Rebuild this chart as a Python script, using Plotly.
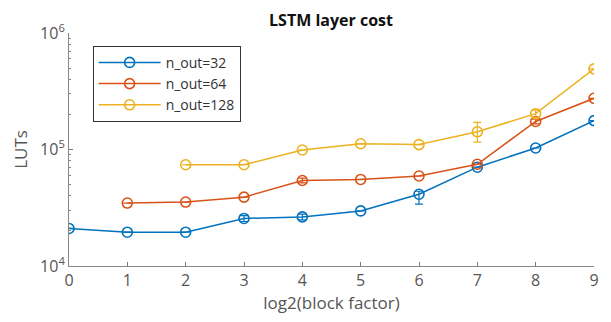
import plotly.graph_objects as go

x_vals = [0, 1, 2, 3, 4, 5, 6, 7, 8, 9]

x_32 = [0, 1, 2, 3, 4, 5, 6, 7, 8, 9]
luts_32 = [21000, 19500, 19500, 25600, 26400, 29700, 41300, 70500, 103000, 177000]
err_up_32 = [0, 0, 0, 1500, 1500, 0, 2500, 0, 0, 0]
err_dn_32 = [0, 0, 0, 1500, 1500, 0, 7300, 0, 0, 0]

x_64 = [1, 2, 3, 4, 5, 6, 7, 8, 9]
luts_64 = [34700, 35400, 39000, 54200, 55300, 59200, 74700, 174000, 275000]
err_up_64 = [0, 0, 0, 2500, 0, 0, 0, 8000, 0]
err_dn_64 = [0, 0, 0, 2500, 0, 0, 0, 8000, 0]

x_128 = [2, 3, 4, 5, 6, 7, 8, 9]
luts_128 = [74000, 74000, 99000, 112000, 110200, 141900, 203000, 492000]
err_up_128 = [0, 0, 0, 0, 0, 28700, 15000, 0]
err_dn_128 = [0, 0, 0, 0, 0, 26200, 15000, 0]

names = ["n_out=32", "n_out=64", "n_out=128"]
colors = ["#0072BD", "#D95319", "#EDB120"]

y_tickvals = [1e4, 1e5, 1e6]
y_ticktext = ["10<sup>4</sup>", "10<sup>5</sup>", "10<sup>6</sup>"]
minor_vals = [m * 10 ** e for e in (4, 5) for m in range(2, 10)]

FONT = "Open Sans"
W, H = 603, 314
fig = go.Figure()
series = [
    (x_32, luts_32, err_up_32, err_dn_32),
    (x_64, luts_64, err_up_64, err_dn_64),
    (x_128, luts_128, err_up_128, err_dn_128),
]
for (xs, ys, eu, ed), name, c in zip(series, names, colors):
    fig.add_trace(go.Scatter(
        x=xs, y=ys, name=name, mode="lines+markers",
        line=dict(color=c, width=1.5),
        marker=dict(symbol="circle-open", size=10, color=c, line=dict(width=1.6)),
        error_y=dict(type="data", symmetric=False, array=eu, arrayminus=ed,
                     color=c, thickness=1.2, width=4),
    ))

fig.update_layout(
    width=W, height=H,
    margin=dict(l=61, r=16, t=21, b=56),
    paper_bgcolor="white", plot_bgcolor="white",
    font=dict(family=FONT, color="#555555", size=15),
    title=dict(text="<b>LSTM layer cost</b>", x=323 / W, xanchor="center",
               y=1 - 12 / H, yanchor="middle",
               font=dict(family=FONT, size=16, color="#111111")),
    showlegend=True,
    legend=dict(x=0.045, y=0.945, xanchor="left", yanchor="top",
                bgcolor="white", bordercolor="#333333", borderwidth=1,
                font=dict(family=FONT, size=14, color="#333333"),
                tracegroupgap=0, itemwidth=62),
)
fig.update_xaxes(
    range=[0, 9], tickmode="array", tickvals=x_vals,
    ticks="inside", ticklen=4, tickcolor="#777777",
    showline=True, linecolor="#888888", linewidth=1,
    showgrid=False, zeroline=False,
    tickfont=dict(size=16, color="#555555"),
    title=dict(text="log2(block factor)", font=dict(size=17, color="#555555"), standoff=2),
)
fig.update_yaxes(
    type="log", range=[4, 6], tickmode="array",
    tickvals=y_tickvals, ticktext=y_ticktext,
    ticks="inside", ticklen=4, tickcolor="#777777",
    minor=dict(tickvals=minor_vals, ticks="inside", ticklen=2, tickcolor="#888888", showgrid=False),
    showline=True, linecolor="#888888", linewidth=1,
    showgrid=False, zeroline=False,
    tickfont=dict(size=16, color="#555555"),
    title=dict(text="LUTs", font=dict(size=17, color="#555555"), standoff=8),
)

fig.write_html("out.html")
